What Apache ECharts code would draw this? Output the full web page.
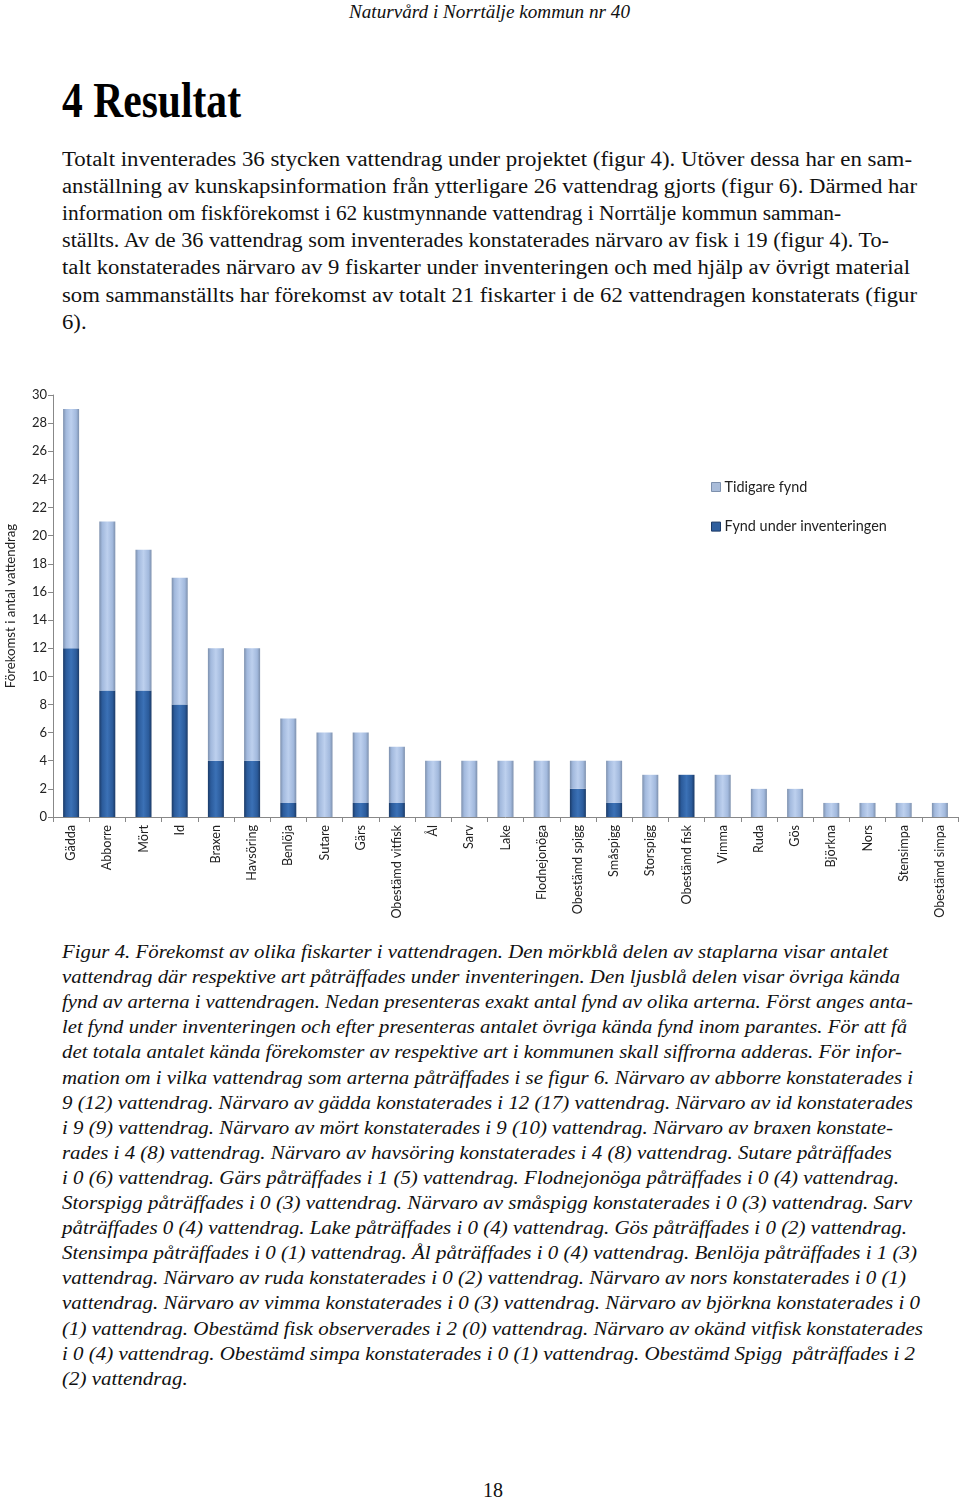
<!DOCTYPE html>
<html>
<head>
<meta charset="utf-8">
<script src="https://cdn.jsdelivr.net/npm/echarts@6/dist/echarts.min.js"></script>
<style>
html,body{margin:0;padding:0;background:#fff;}
body{width:960px;height:1500px;position:relative;overflow:hidden;}
#chart{position:absolute;left:0;top:380px;width:960px;height:540px;}
</style>
</head>
<body>
<div id="chart"></div>
<script>
// ---- chart data ----
const categories = ["Gädda","Abborre","Mört","Id","Braxen","Havsöring","Benlöja","Sutare","Gärs","Obestämd vitfisk","Ål","Sarv","Lake","Flodnejonöga","Obestämd spigg","Småspigg","Storspigg","Obestämd fisk","Vimma","Ruda","Gös","Björkna","Nors","Stensimpa","Obestämd simpa"];
const fyndUnderInventeringen = [12,9,9,8,4,4,1,0,1,1,0,0,0,0,2,1,0,3,0,0,0,0,0,0,0];
const tidigareFynd = [17,12,10,9,8,8,6,6,5,4,4,4,4,4,2,3,3,0,3,2,2,1,1,1,1];
const yTicks = {min:0, max:30, interval:2};
const yAxisName = "Förekomst i antal vattendrag";
const seriesNames = ["Fynd under inventeringen","Tidigare fynd"];

// ---- page text ----
const headerText = "Naturvård i Norrtälje kommun nr 40";
const titleText = "4 Resultat";
const bodyLines = [
 "Totalt inventerades 36 stycken vattendrag under projektet (figur 4). Utöver dessa har en sam-",
 "anställning av kunskapsinformation från ytterligare 26 vattendrag gjorts (figur 6). Därmed har",
 "information om fiskförekomst i 62 kustmynnande vattendrag i Norrtälje kommun samman-",
 "ställts. Av de 36 vattendrag som inventerades konstaterades närvaro av fisk i 19 (figur 4). To-",
 "talt konstaterades närvaro av 9 fiskarter under inventeringen och med hjälp av övrigt material",
 "som sammanställts har förekomst av totalt 21 fiskarter i de 62 vattendragen konstaterats (figur",
 "6)."
];
const captionLines = [
 "Figur 4. Förekomst av olika fiskarter i vattendragen. Den mörkblå delen av staplarna visar antalet",
 "vattendrag där respektive art påträffades under inventeringen. Den ljusblå delen visar övriga kända",
 "fynd av arterna i vattendragen. Nedan presenteras exakt antal fynd av olika arterna. Först anges anta-",
 "let fynd under inventeringen och efter presenteras antalet övriga kända fynd inom parantes. För att få",
 "det totala antalet kända förekomster av respektive art i kommunen skall siffrorna adderas. För infor-",
 "mation om i vilka vattendrag som arterna påträffades i se figur 6. Närvaro av abborre konstaterades i",
 "9 (12) vattendrag. Närvaro av gädda konstaterades i 12 (17) vattendrag. Närvaro av id konstaterades",
 "i 9 (9) vattendrag. Närvaro av mört konstaterades i 9 (10) vattendrag. Närvaro av braxen konstate-",
 "rades i 4 (8) vattendrag. Närvaro av havsöring konstaterades i 4 (8) vattendrag. Sutare påträffades",
 "i 0 (6) vattendrag. Gärs påträffades i 1 (5) vattendrag. Flodnejonöga påträffades i 0 (4) vattendrag.",
 "Storspigg påträffades i 0 (3) vattendrag. Närvaro av småspigg konstaterades i 0 (3) vattendrag. Sarv",
 "påträffades 0 (4) vattendrag. Lake påträffades i 0 (4) vattendrag. Gös påträffades i 0 (2) vattendrag.",
 "Stensimpa påträffades i 0 (1) vattendrag. Ål påträffades i 0 (4) vattendrag. Benlöja påträffades i 1 (3)",
 "vattendrag. Närvaro av ruda konstaterades i 0 (2) vattendrag. Närvaro av nors konstaterades i 0 (1)",
 "vattendrag. Närvaro av vimma konstaterades i 0 (3) vattendrag. Närvaro av björkna konstaterades i 0",
 "(1) vattendrag. Obestämd fisk observerades i 2 (0) vattendrag. Närvaro av okänd vitfisk konstaterades",
 "i 0 (4) vattendrag. Obestämd simpa konstaterades i 0 (1) vattendrag. Obestämd Spigg  påträffades i 2",
 "(2) vattendrag."
];
const pageNumber = "18";

// layout (right edges of each text line on the page)
const bodyRight = [912,917,841,889,910,917,null];
const capRight = [888,900,913,907,902,913,913,893,892,899,912,907,917,906,920,923,915,null];

const SERIF = '"Liberation Serif", "Times New Roman", Tinos, serif';
function addLine(text, left, top, st){
  const d = document.createElement('div');
  d.textContent = text;
  Object.assign(d.style, {
    position:'absolute', left:left+'px', top:top+'px', whiteSpace:'pre',
    fontFamily:SERIF, color:'#111', transformOrigin:'0 0',
    fontSize:'20px', lineHeight:'24px', fontStyle:'normal', fontWeight:'normal'
  }, st||{});
  document.body.appendChild(d);
  return d;
}
function fit(el, width){
  const w = el.getBoundingClientRect().width;
  const s = w > 0 ? width / w : 1;
  el.style.transform = 'scaleX(' + s + ')';
  return s;
}

const hdr = addLine(headerText, 349, 0, {fontSize:'19px', fontStyle:'italic'});
const ttl = addLine(titleText, 62, 75, {fontSize:'50px', lineHeight:'50px', fontWeight:'bold', color:'#000'});
const bodyEls = bodyLines.map((t,i)=>addLine(t,62,147+27.1*i,{fontSize:'20px'}));
const capEls = captionLines.map((t,i)=>addLine(t,62,940+25.1*i,{fontSize:'19px', fontStyle:'italic'}));
const pg = addLine(pageNumber,483,1478,{fontSize:'20px'});

function doFit(){
  fit(hdr, 630-349);
  fit(ttl, 241-62);
  let s = 1;
  bodyEls.forEach((el,i)=>{ if (bodyRight[i]) s = fit(el, bodyRight[i]-62); else el.style.transform='scaleX('+s+')'; });
  s = 1;
  capEls.forEach((el,i)=>{ if (capRight[i]) s = fit(el, capRight[i]-62); else el.style.transform='scaleX('+s+')'; });
}
doFit();

// ---- chart ----
const lightGrad = {type:'linear',x:0,y:0,x2:1,y2:0,colorStops:[
  {offset:0,color:'#7d90ad'},{offset:0.18,color:'#a2b9dd'},{offset:0.5,color:'#bdd0ee'},{offset:0.82,color:'#a2b9dd'},{offset:1,color:'#7d90ad'}]};
const darkGrad = {type:'linear',x:0,y:0,x2:1,y2:0,colorStops:[
  {offset:0,color:'#1b3a66'},{offset:0.18,color:'#2b5b9b'},{offset:0.5,color:'#3b71b6'},{offset:0.82,color:'#2b5b9b'},{offset:1,color:'#1b3a66'}]};

const chart = echarts.init(document.getElementById('chart'), null, {renderer:'canvas'});
const ff = 'Lato, "Open Sans", sans-serif';
chart.setOption({
  animation:false,
  textStyle:{fontFamily:ff},
  grid:{left:53,right:2,top:15,bottom:103,containLabel:false,outerBoundsMode:'none'},
  legend:{
    orient:'vertical', left:711, top:100, padding:0, itemWidth:9, itemHeight:9, itemGap:25.6,
    data:[{name:seriesNames[1], itemStyle:{color:'#a9bcd9', borderColor:'#7d90ad', borderWidth:1}},
          {name:seriesNames[0], itemStyle:{color:'#2f5f9e', borderColor:'#1b3a66', borderWidth:1}}],
    textStyle:{fontFamily:ff, fontSize:14.4, color:'#222', padding:[0,0,0,-1]}, icon:'rect', selectedMode:false
  },
  xAxis:{
    type:'category', data:categories,
    axisLine:{lineStyle:{color:'#888',width:1}},
    axisTick:{show:true,length:5,alignWithLabel:false,lineStyle:{color:'#888'}},
    axisLabel:{rotate:90, interval:0, fontSize:12.6, color:'#222', margin:8, fontFamily:ff}
  },
  yAxis:{
    type:'value', min:yTicks.min, max:yTicks.max, interval:yTicks.interval,
    name:yAxisName, nameLocation:'middle', nameGap:36, nameRotate:90,
    nameTextStyle:{fontSize:13.2, color:'#222', fontFamily:ff},
    axisLine:{show:true,lineStyle:{color:'#888'}},
    axisTick:{show:true,length:5,lineStyle:{color:'#888'}},
    axisLabel:{fontSize:13, color:'#222', margin:6, fontFamily:ff},
    splitLine:{show:false}
  },
  series:[
    {name:seriesNames[0], type:'bar', stack:'t', data:fyndUnderInventeringen, barWidth:16, itemStyle:{color:darkGrad}},
    {name:seriesNames[1], type:'bar', stack:'t', data:tidigareFynd, barWidth:16, itemStyle:{color:lightGrad}}
  ]
});
</script>
</body>
</html>
